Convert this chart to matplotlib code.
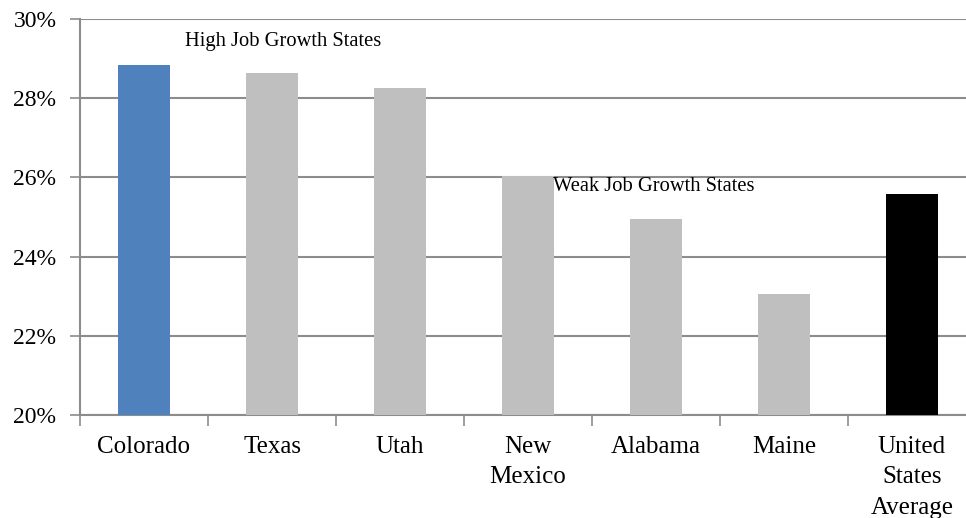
import matplotlib
matplotlib.use("Agg")
import matplotlib.pyplot as plt

categories = ["Colorado", "Texas", "Utah", "New\nMexico", "Alabama", "Maine",
              "United\nStates\nAverage"]
values = [28.84, 28.64, 28.26, 26.03, 24.95, 23.06, 25.58]
colors = ["#4f81bd", "#bfbfbf", "#bfbfbf", "#bfbfbf", "#bfbfbf", "#bfbfbf", "#000000"]
y_ticks = [20, 22, 24, 26, 28, 30]

SERIF = ["Liberation Serif", "DejaVu Serif"]
plt.rcParams["font.family"] = SERIF

fig = plt.figure(figsize=(9.66, 5.18), dpi=100)
W, H = 966, 518
left, right, top, bottom = 80, 976, 19, 415
ax = fig.add_axes([left / W, 1 - bottom / H, (right - left) / W, (bottom - top) / H])

x = list(range(len(categories)))
ax.bar(x, [v - 20 for v in values], bottom=20, width=0.41, color=colors, zorder=3)

ax.set_ylim(20, 30)
ax.set_xlim(-0.5, len(categories) - 0.5)
ax.set_yticks(y_ticks)
ax.set_yticklabels([f"{v}%" for v in y_ticks], fontsize=17, family=SERIF)
ax.grid(axis="y", color="#8c8c8c", linewidth=1.5, zorder=0)

# category labels sit between boundary tick marks
ax.set_xticks(x)
ax.set_xticklabels(categories, fontsize=18, linespacing=1.5, va="top",
                   family=SERIF)
ax.tick_params(axis="x", length=0, pad=15)
ax.set_xticks([i - 0.5 for i in range(len(categories) + 1)], minor=True)
ax.tick_params(axis="x", which="minor", length=8, width=1.2, color="#8c8c8c",
               direction="out")
ax.tick_params(axis="y", length=7, width=1.2, color="#8c8c8c", pad=10)

for side in ["top", "right"]:
    ax.spines[side].set_visible(False)
for side in ["left", "bottom"]:
    ax.spines[side].set_color("#8c8c8c")
    ax.spines[side].set_linewidth(1.5)

ax.text(1.086, 29.42, "High Job Growth States", fontsize=14.8, ha="center",
        va="center", family=SERIF)
ax.text(3.98, 25.78, "Weak Job Growth States", fontsize=14.8, ha="center",
        va="center", family=SERIF)

fig.savefig("out.png", dpi=100)
